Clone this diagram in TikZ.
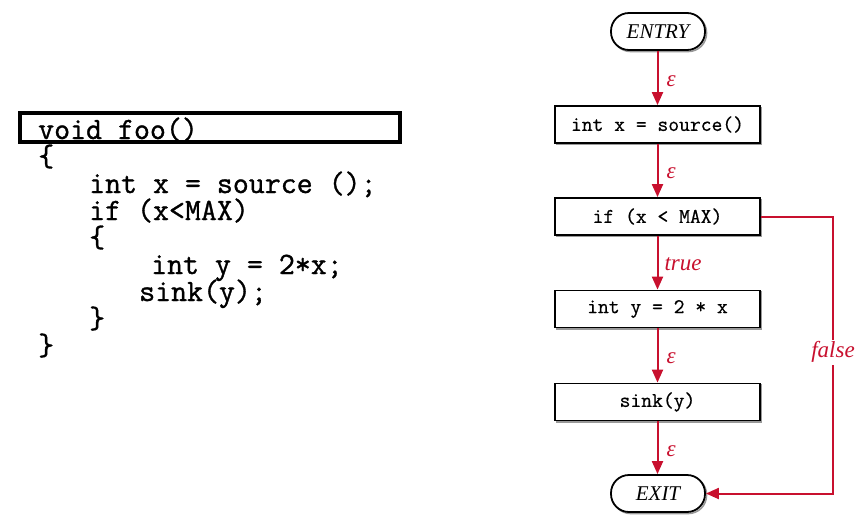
\documentclass[tikz,border=0pt]{standalone}
\usepackage{fontspec}
\setmainfont{Liberation Serif}
\newfontfamily\codefont{Latin Modern Mono}[FakeBold=1.1]
\newfontfamily\boxfont{Latin Modern Mono}[FakeBold=0.6]
\usetikzlibrary{arrows.meta}
\definecolor{flowred}{HTML}{C8102E}
\tikzset{
  listing/.style={anchor=base west, inner sep=0pt, align=left,
    font=\codefont\fontsize{31}{27}\selectfont},
  stmt/.style={draw, line width=1.8pt, fill=white, minimum width=205pt, minimum height=37pt,
    inner sep=0pt, font=\boxfont\fontsize{21}{21}\selectfont,
    preaction={draw=black!40, line width=1.6pt, transform canvas={shift={(1.5pt,-1.5pt)}}}},
  terminal/.style={stmt, rounded corners=18pt, minimum width=94pt, font=\itshape\fontsize{21}{21}\selectfont},
  flow/.style={draw=flowred, line width=2pt, -{Triangle[length=13pt,width=11pt]}},
  lbl/.style={text=flowred, font=\itshape\fontsize{23}{23}\selectfont, inner sep=1pt}
}
\begin{document}
% keep the listing's lines evenly spaced, whatever their ascenders and descenders
\setlength{\lineskiplimit}{-40pt}
\begin{tikzpicture}[x=1pt,y=-1pt]
\useasboundingbox (0,0) rectangle (862,528);

% source listing (anchored at the baseline of its last line), with the signature boxed
\node[draw, line width=3.5pt, minimum width=380pt, minimum height=29pt, inner sep=0pt] (sig) at (210,127.5) {};
\node[listing] (code) at (38,355) {void foo()\\
\{\\
\hspace*{51pt}int x = source ();\\
\hspace*{51pt}if (x<MAX)\\
\hspace*{51pt}\{\\
\hspace*{113pt}int y = 2*x;\\
\hspace*{101pt}sink(y);\\
\hspace*{51pt}\}\\
\}};

% control flow graph
\node[terminal] (entry) at (658,31.5) {ENTRY};
\node[stmt] (n1) at (657.5,124.5) {int x = source()};
\node[stmt] (n2) at (657.5,216.5) {if (x < MAX)};
\node[stmt] (n3) at (657.5,309) {int y = 2 * x};
\node[stmt] (n4) at (657.5,402) {sink(y)};
\node[terminal] (exit) at (658,493.5) {EXIT};
\coordinate (c1) at (833,216.5);
\coordinate (c2) at (833,493.5);

\draw[flow] (entry.south -| n1) -- node[lbl, right, xshift=7pt, yshift=-3pt] {ε} (n1.north);
\draw[flow] (n1) -- node[lbl, right, xshift=7pt, yshift=-3pt] {ε} (n2);
\draw[flow] (n2) -- node[lbl, right, xshift=5pt, yshift=-1pt] {true} (n3);
\draw[flow] (n3) -- node[lbl, right, xshift=7pt, yshift=-3pt] {ε} (n4);
\draw[flow] (n4) -- node[lbl, right, xshift=7pt, yshift=-3pt] {ε} (exit.north -| n4);
\draw[flow] (n2.east) -- (c1) -- node[lbl, fill=white, inner sep=2pt, pos=0.49] {false} (c2) -- (exit.east);
\end{tikzpicture}
\end{document}
